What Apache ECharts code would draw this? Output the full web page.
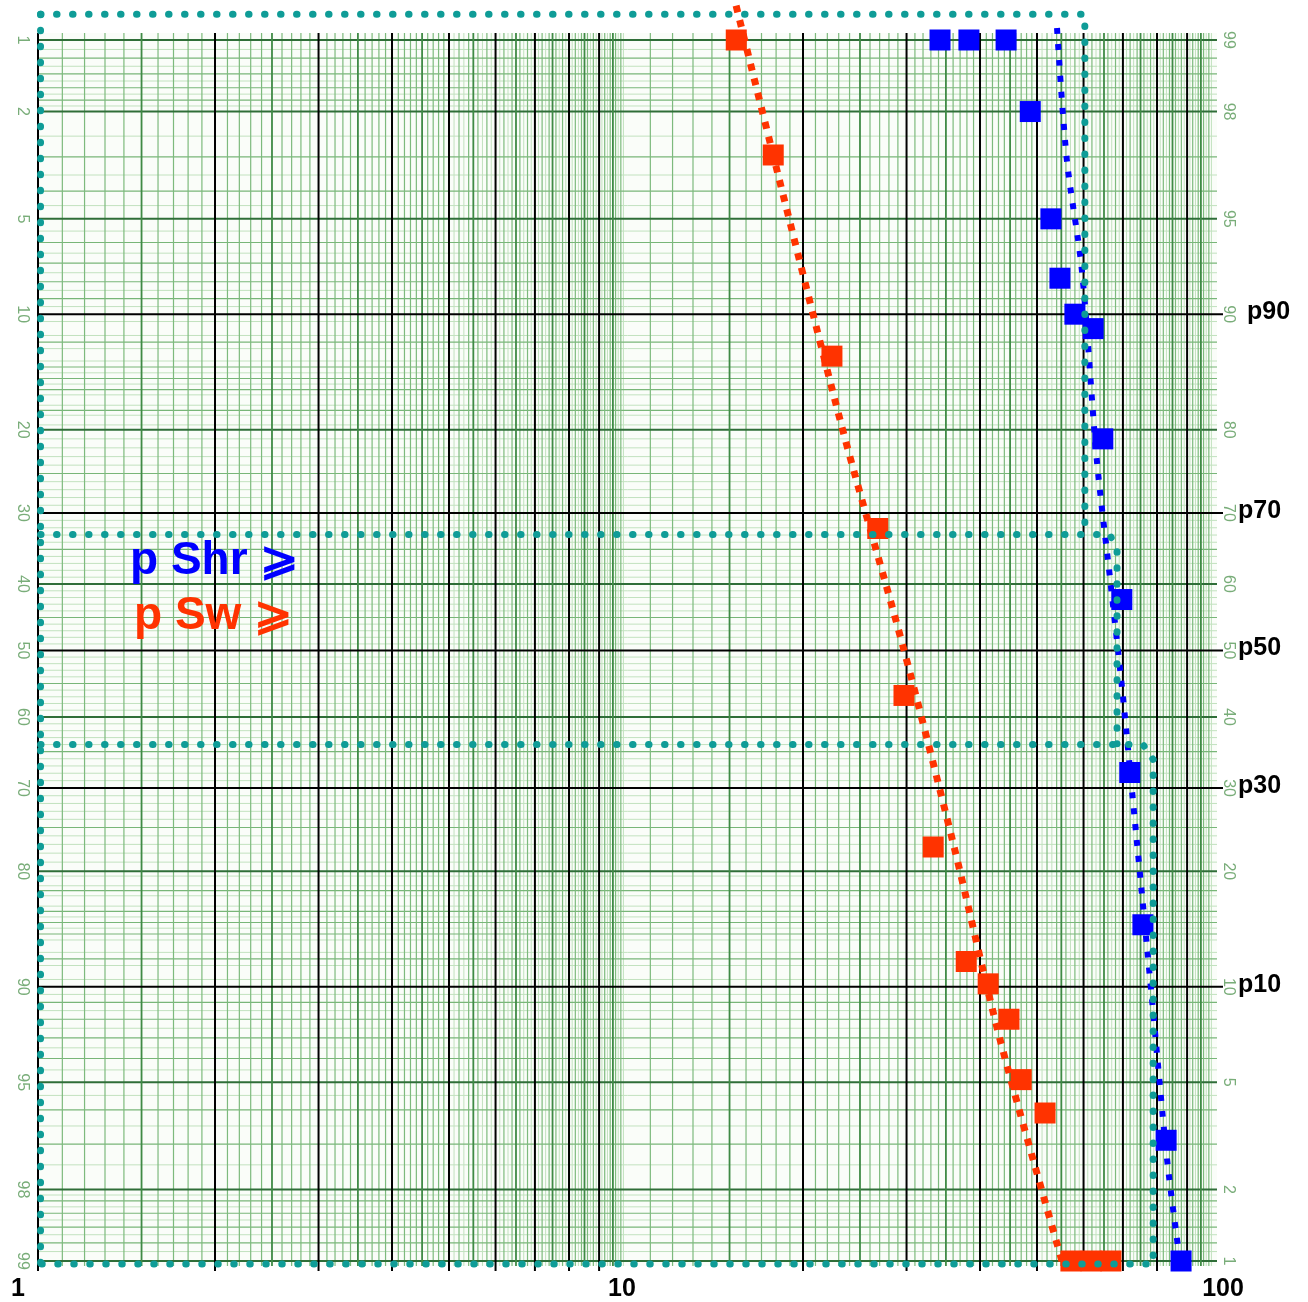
<!DOCTYPE html>
<html><head><meta charset="utf-8">
<script src="https://cdn.jsdelivr.net/npm/echarts@6/dist/echarts.min.js"></script>
<style>html,body{margin:0;padding:0;background:#fff}#c{width:1308px;height:1302px}</style>
</head><body><div id="c"></div>
<script>
// ---------------- data ----------------
const swX  = [15.4, 17.8, 22.4, 26.8, 29.7, 33.3, 37.9, 41.3, 44.8, 47.0, 51.6, 57.1, 61.8, 66.8];
const swP  = [1, 2.95, 13.1, 32.1, 56.8, 77.3, 88.2, 89.8, 92.0, 94.9, 96.1, 99, 99, 99];
const shrX = [34.2, 38.3, 44.3, 48.7, 52.8, 54.7, 58.0, 62.3, 64.7, 69.7, 71.9, 75.7, 82.9, 87.9];
const shrP = [1, 1, 1, 2, 5, 7.8, 10, 11, 21, 42.3, 67.9, 85.2, 96.9, 99];
const swFitX  = [15.39, 23.12, 29.59, 35.98, 43.25, 55.14];
const swFitP  = [0.70, 18.96, 49.4, 76.76, 93.07, 99];
const shrFitX = [54.08, 56.2, 59.6, 63.2, 66.6, 69.8, 73.96, 78.44, 83.2, 87.5];
const shrFitP = [0.885, 3.08, 7.35, 23.4, 39.4, 55.9, 76.8, 90.8, 97.37, 99];
// teal boundary outlines
const bnd1X = [1.01, 60.3, 60.3];          const bnd1P = [0.766, 0.766, 32.94];
const bnd2X = [1.01, 66.5, 68.4, 68.4];    const bnd2P = [32.94, 32.94, 35.0, 63.9];
const bnd3X = [1.01, 75.7, 78.8, 78.8, 1.01]; const bnd3P = [63.98, 63.98, 66.1, 99.03, 99.03];
const bnd4X = [1.01, 1.01];                const bnd4P = [0.766, 99.03];
// tick labels
const leftTicks  = [1, 2, 5, 10, 20, 30, 40, 50, 60, 70, 80, 90, 95, 98, 99];
const rightTicks = ['99','98','95','90','80','70','60','50','40','30','20','10','5','2','1'];
const pLevels = [10, 30, 50, 70, 90];
const pLabels = ['p90', 'p70', 'p50', 'p30', 'p10'];
const xTickLabels = ['1', '10', '100'];
const legendShr = 'p Shr \u2A7E';
const legendSw  = 'p Sw \u2A7E';

// ---------------- helpers ----------------
function probit(p){
  const a=[-3.969683028665376e+01,2.209460984245205e+02,-2.759285104469687e+02,1.383577518672690e+02,-3.066479806614716e+01,2.506628277459239e+00];
  const b=[-5.447609879822406e+01,1.615858368580409e+02,-1.556989798598866e+02,6.680131188771972e+01,-1.328068155288572e+01];
  const c=[-7.784894002430293e-03,-3.223964580411365e-01,-2.400758277161838e+00,-2.549732539343734e+00,4.374664141464968e+00,2.938163982698783e+00];
  const d=[7.784695709041462e-03,3.224671290700398e-01,2.445134137142996e+00,3.754408661907416e+00];
  const pl=0.02425, ph=1-pl; let q,r;
  if(p<pl){q=Math.sqrt(-2*Math.log(p));return (((((c[0]*q+c[1])*q+c[2])*q+c[3])*q+c[4])*q+c[5])/((((d[0]*q+d[1])*q+d[2])*q+d[3])*q+1);}
  if(p<=ph){q=p-0.5;r=q*q;return (((((a[0]*r+a[1])*r+a[2])*r+a[3])*r+a[4])*r+a[5])*q/(((((b[0]*r+b[1])*r+b[2])*r+b[3])*r+b[4])*r+1);}
  q=Math.sqrt(-2*Math.log(1-p));return -(((((c[0]*q+c[1])*q+c[2])*q+c[3])*q+c[4])*q+c[5])/((((d[0]*q+d[1])*q+d[2])*q+d[3])*q+1);
}
const Z = pct => probit(pct/100);
const pairs = (xs, ps) => xs.map((x,i)=>[x, Z(ps[i])]);

// graph-paper line sets (generated)
function range(a,b,s){const o=[];for(let v=a;v<b-1e-9;v+=s)o.push(+v.toFixed(4));return o;}
const isMult = (v, s) => Math.abs(v/s - Math.round(v/s)) < 1e-6;
const vBlack=[1], vDark=[], vMed=[], vLight=[];
[1,10].forEach(D=>{
  for(let m=1;m<10;m++){ if(m>1) vBlack.push(m*D); vDark.push((m+0.5)*D); }
  range(1,5,0.1).forEach(m=>{ if(!isMult(m,0.5)) vMed.push(m*D); });
  range(5,10,0.1).forEach(m=>{ if(!isMult(m,0.5)) (isMult(m,0.2)?vMed:vLight).push(m*D); });
});
const hBlack = pLevels.slice();
const hDark  = [1,2,5,20,40,60,80,95,98,99];
const hMed = [1.2,1.4,1.6,1.8,3,4,6,7,8,9,12,14,15,16,18,25,35,45,55,65,75,82,84,85,86,88,91,92,93,94,96,97,98.2,98.4,98.6,98.8];
const hLight = [].concat(range(1.1,2,0.2), range(2.5,10,0.5).filter(v=>v%1!==0),
  range(21,80,1).filter(v=>v%5!==0), range(10.5,20,1), range(80.5,90,1), range(90.5,98,0.5).filter(v=>v%1!==0), range(98.1,99,0.2));

const teal = '#0f9c97';
const red = '#ff3300';
const blue = '#0000ff';

const chart = echarts.init(document.getElementById('c'), null, {renderer:'canvas'});

function paperItem(params, api){
  const ch = [];
  const x0 = api.coord([1, 0])[0], x1 = api.coord([100, 0])[0];
  const yT = api.coord([1, Z(1)])[1], yB = api.coord([1, Z(99)])[1];
  ch.push({type:'rect', shape:{x:x0, y:yT-7, width:x1-x0+3, height:yB-yT+12}, style:{fill:'#fafdf9'}});
  const vl = (arr, color, w, ext1, ext2) => arr.forEach(v=>{ const x=api.coord([v,0])[0];
    ch.push({type:'line', shape:{x1:x, y1:yT-ext1, x2:x, y2:yB+ext2}, style:{stroke:color, lineWidth:w}}); });
  const hl = (arr, color, w, extR) => arr.forEach(p=>{ const y=api.coord([1,Z(p)])[1];
    ch.push({type:'line', shape:{x1:x0, y1:y, x2:x1+extR, y2:y}, style:{stroke:color, lineWidth:w}}); });
  hl(hLight, '#c2e2bf', 1, 3);
  vl(vLight, '#c2e2bf', 1, 7, 5);
  hl(hMed, '#78b678', 1.2, 3);
  vl(vMed, '#7dba7d', 1.2, 7, 5);
  hl(hDark, '#2f6e38', 2, 3);
  vl(vDark, '#3f8a45', 1.8, 7, 5);
  vl(vBlack, '#000', 2, 7, 10);
  hl(hBlack, '#000', 2, 9);
  // y tick labels (rotated, green)
  leftTicks.forEach((p,i)=>{ const y=api.coord([1,Z(p)])[1];
    ch.push({type:'text', x:x0-16, y:y, rotation:-Math.PI/2,
      style:{text:String(p), fill:'#79ad79', fontSize:16, fontFamily:'Liberation Sans', align:'center', verticalAlign:'middle'}});
    ch.push({type:'text', x:x1+14, y:y, rotation:-Math.PI/2,
      style:{text:rightTicks[i], fill:'#79ad79', fontSize:16, fontFamily:'Liberation Sans', align:'center', verticalAlign:'middle'}});
  });
  pLevels.forEach((p,i)=>{ const y=api.coord([1,Z(p)])[1];
    ch.push({type:'text', x:x1+(i===0?33:24), y:y-2,
      style:{text:pLabels[i], fill:'#000', fontSize:25, fontWeight:'bold', fontFamily:'Liberation Sans', align:'left', verticalAlign:'middle'}});
  });
  return {type:'group', children:ch};
}

const tealLine = (xs, ps) => ({type:'line', data:pairs(xs,ps), showSymbol:false, symbol:'none', clip:false, silent:true, z:6,
  lineStyle:{color:teal, width:7, type:[0.5,15.5], cap:'round'}});

chart.setOption({
  animation:false,
  backgroundColor:'#fff',
  grid:{left:38, right:94, top:40, bottom:40, containLabel:false},
  xAxis:{type:'log', logBase:10, min:1, max:100,
    axisLine:{show:false}, axisTick:{show:false}, splitLine:{show:false}, minorSplitLine:{show:false},
    axisLabel:{margin:16, formatter:v=>{ const i=Math.round(Math.log10(v)); return '{t'+i+'|'+xTickLabels[i]+'}'; },
      rich:{
        t0:{fontSize:25, fontWeight:'bold', color:'#000', fontFamily:'Liberation Sans', padding:[0,40,0,0]},
        t1:{fontSize:25, fontWeight:'bold', color:'#000', fontFamily:'Liberation Sans', padding:[0,8,0,0]},
        t2:{fontSize:25, fontWeight:'bold', color:'#000', fontFamily:'Liberation Sans', padding:[0,0,0,18]}
      }}},
  yAxis:{type:'value', min:Z(1), max:Z(99), inverse:true, show:false},
  graphic:[
    {type:'text', left:130, top:538, z:10, style:{text:legendShr, fill:blue, fontSize:46, fontWeight:'bold', fontFamily:'Liberation Sans'}},
    {type:'text', left:134, top:593, z:10, style:{text:legendSw, fill:red, fontSize:46, fontWeight:'bold', fontFamily:'Liberation Sans'}}
  ],
  series:[
    {type:'custom', data:[[1,0]], renderItem:paperItem, silent:true, z:1, clip:false},
    {type:'line', data:pairs(swFitX, swFitP), showSymbol:false, symbol:'none', clip:false, z:3, smooth:0.3,
      lineStyle:{color:red, width:7, type:[7,8]}},
    {type:'line', data:pairs(shrFitX, shrFitP), showSymbol:false, symbol:'none', clip:false, z:3, smooth:0.3,
      lineStyle:{color:blue, width:6, type:[6,10]}},
    {type:'scatter', data:pairs(swX, swP), symbol:'rect', symbolSize:21, itemStyle:{color:red, opacity:1}, z:4, clip:false},
    {type:'scatter', data:pairs(shrX, shrP), symbol:'rect', symbolSize:21, itemStyle:{color:blue, opacity:1}, z:4, clip:false},
    tealLine(bnd1X, bnd1P), tealLine(bnd2X, bnd2P), tealLine(bnd3X, bnd3P), tealLine(bnd4X, bnd4P)
  ]
});
</script></body></html>
